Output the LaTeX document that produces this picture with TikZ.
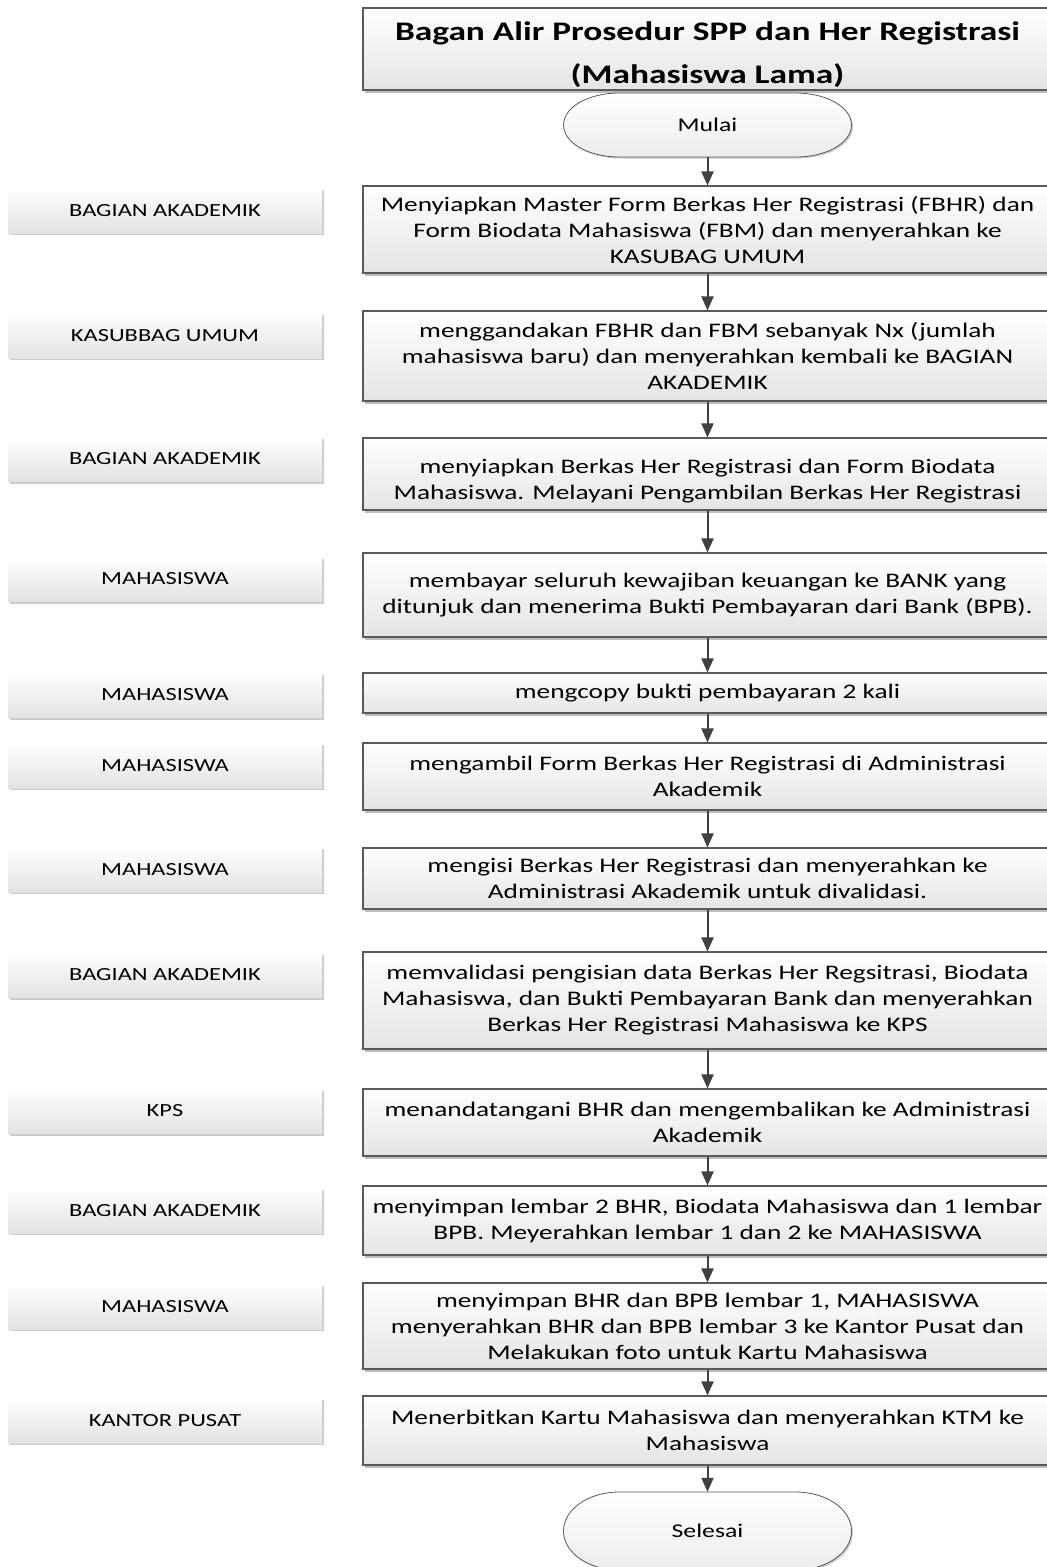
\documentclass[tikz,border=0pt]{standalone}
\usepackage{fontspec}
\setmainfont{Carlito}
\newfontfamily\wideface[FakeStretch=1.32]{Carlito}
\usetikzlibrary{shadows,arrows.meta}

\definecolor{edgegray}{HTML}{5A5A5A}
\definecolor{arrowgray}{HTML}{404040}
\definecolor{shadegray}{HTML}{E4E4E4}
\definecolor{lanegray}{HTML}{E2E2E2}
\definecolor{dropgray}{HTML}{BDBDBD}
\definecolor{lanedrop}{HTML}{CCCCCC}

\tikzset{
  procbox/.style={rectangle, draw=edgegray, line width=1.1pt,
    top color=white, bottom color=shadegray,
    minimum width=689pt, inner sep=0pt, align=center,
    font=\wideface\fontsize{20.7}{26}\selectfont,
    drop shadow={shadow xshift=1.5pt, shadow yshift=-2.5pt, fill=dropgray, opacity=1}},
  headbox/.style={procbox, minimum height=82pt,
    font=\wideface\bfseries\fontsize{26.8}{43}\selectfont},
  lanebox/.style={rectangle, top color=white, bottom color=lanegray,
    minimum width=314pt, minimum height=45pt, inner sep=0pt,
    font=\wideface\fontsize{18.5}{22}\selectfont,
    drop shadow={shadow xshift=2pt, shadow yshift=-2pt, fill=lanedrop, opacity=1}},
  termshape/.style={draw=edgegray, line width=0.8pt, top color=white, bottom color=shadegray!70,
    drop shadow={shadow xshift=1.5pt, shadow yshift=-1.5pt, fill=lanedrop, opacity=1}},
  termnode/.style={rectangle, minimum width=288pt, inner sep=0pt,
    font=\wideface\fontsize{19.5}{22}\selectfont},
  flow/.style={draw=arrowgray, line width=2pt, -{Triangle[length=14pt,width=12pt]}},
}

\begin{document}
\begin{tikzpicture}[x=1pt,y=-1pt]
\useasboundingbox (0,0) rectangle (1047,1567);
\clip (0,0) rectangle (1047,1567);

% title (the strut on the first line lowers the text block inside the box)
\node[headbox] (head) at (707.5,49) {\rule{0pt}{30pt}Bagan Alir Prosedur SPP dan Her Registrasi\\(Mahasiswa Lama)};

% start / end terminals
\path[termshape] (619.5,93) -- (795.5,93) .. controls (827,93) and (851.5,107.3) .. (851.5,125)
  .. controls (851.5,142.7) and (827,157) .. (795.5,157) -- (619.5,157)
  .. controls (588,157) and (563.5,142.7) .. (563.5,125)
  .. controls (563.5,107.3) and (588,93) .. (619.5,93) -- cycle;
\node[termnode, minimum height=64pt] (start) at (707.5,125) {Mulai};

\path[termshape] (619.5,1492) -- (795.5,1492) .. controls (827,1492) and (851.5,1509.5) .. (851.5,1531)
  .. controls (851.5,1552.5) and (827,1570) .. (795.5,1570) -- (619.5,1570)
  .. controls (588,1570) and (563.5,1552.5) .. (563.5,1531)
  .. controls (563.5,1509.5) and (588,1492) .. (619.5,1492) -- cycle;
\node[termnode, minimum height=78pt] (finish) at (707.5,1531) {Selesai};

% process steps
\node[procbox, minimum height=87pt] (p1) at (707.5,229.5)
  {Menyiapkan Master Form Berkas Her Registrasi (FBHR) dan\\Form Biodata Mahasiswa (FBM) dan menyerahkan ke\\KASUBAG UMUM};
\node[procbox, minimum height=90pt] (p2) at (707.5,356)
  {menggandakan FBHR dan FBM sebanyak Nx (jumlah\\mahasiswa baru) dan menyerahkan kembali ke BAGIAN\\AKADEMIK};
\node[procbox, minimum height=72pt] (p3) at (707.5,474)
  {\rule{0pt}{28pt}menyiapkan Berkas Her Registrasi dan Form Biodata\\Mahasiswa. Melayani Pengambilan Berkas Her Registrasi};
\node[procbox, minimum height=84pt] (p4) at (707.5,595)
  {membayar seluruh kewajiban keuangan ke BANK yang\\ditunjuk dan menerima Bukti Pembayaran dari Bank (BPB).};
\node[procbox, minimum height=40pt] (p5) at (707.5,693)
  {mengcopy bukti pembayaran 2 kali};
\node[procbox, minimum height=67pt] (p6) at (707.5,776.5)
  {mengambil Form Berkas Her Registrasi di Administrasi\\Akademik};
\node[procbox, minimum height=61pt] (p7) at (707.5,878.5)
  {mengisi Berkas Her Registrasi dan menyerahkan ke\\Administrasi Akademik untuk divalidasi.};
\node[procbox, minimum height=97pt] (p8) at (707.5,1000.5)
  {memvalidasi pengisian data Berkas Her Regsitrasi, Biodata\\Mahasiswa, dan Bukti Pembayaran Bank dan menyerahkan\\Berkas Her Registrasi Mahasiswa ke KPS};
\node[procbox, minimum height=67pt] (p9) at (707.5,1122.5)
  {menandatangani BHR dan mengembalikan ke Administrasi\\Akademik};
\node[procbox, minimum height=69pt] (p10) at (707.5,1220.5)
  {menyimpan lembar 2 BHR, Biodata Mahasiswa dan 1 lembar\\BPB. Meyerahkan lembar 1 dan 2 ke MAHASISWA};
\node[procbox, minimum height=86pt] (p11) at (707.5,1326)
  {menyimpan BHR dan BPB lembar 1, MAHASISWA\\menyerahkan BHR dan BPB lembar 3 ke Kantor Pusat dan\\Melakukan foto untuk Kartu Mahasiswa};
\node[procbox, minimum height=69pt] (p12) at (707.5,1430.5)
  {Menerbitkan Kartu Mahasiswa dan menyerahkan KTM ke\\Mahasiswa};

% actors
\node[lanebox] (a1)  at (165,210.5)  {BAGIAN AKADEMIK};
\node[lanebox] (a2)  at (165,335.5)  {KASUBBAG UMUM};
\node[lanebox] (a3)  at (165,459)    {BAGIAN AKADEMIK};
\node[lanebox] (a4)  at (165,579)    {MAHASISWA};
\node[lanebox] (a5)  at (165,695)    {MAHASISWA};
\node[lanebox] (a6)  at (165,765.5)  {MAHASISWA};
\node[lanebox] (a7)  at (165,869.5)  {MAHASISWA};
\node[lanebox] (a8)  at (165,975)    {BAGIAN AKADEMIK};
\node[lanebox] (a9)  at (165,1111)   {KPS};
\node[lanebox] (a10) at (165,1210.5) {BAGIAN AKADEMIK};
\node[lanebox] (a11) at (165,1306.5) {MAHASISWA};
\node[lanebox] (a12) at (165,1420.5) {KANTOR PUSAT};

% flow
\draw[flow] (start) -- (p1);
\draw[flow] (p1) -- (p2);
\draw[flow] (p2) -- (p3);
\draw[flow] (p3) -- (p4);
\draw[flow] (p4) -- (p5);
\draw[flow] (p5) -- (p6);
\draw[flow] (p6) -- (p7);
\draw[flow] (p7) -- (p8);
\draw[flow] (p8) -- (p9);
\draw[flow] (p9) -- (p10);
\draw[flow] (p10) -- (p11);
\draw[flow] (p11) -- (p12);
\draw[flow] (p12) -- (finish);
\end{tikzpicture}
\end{document}
